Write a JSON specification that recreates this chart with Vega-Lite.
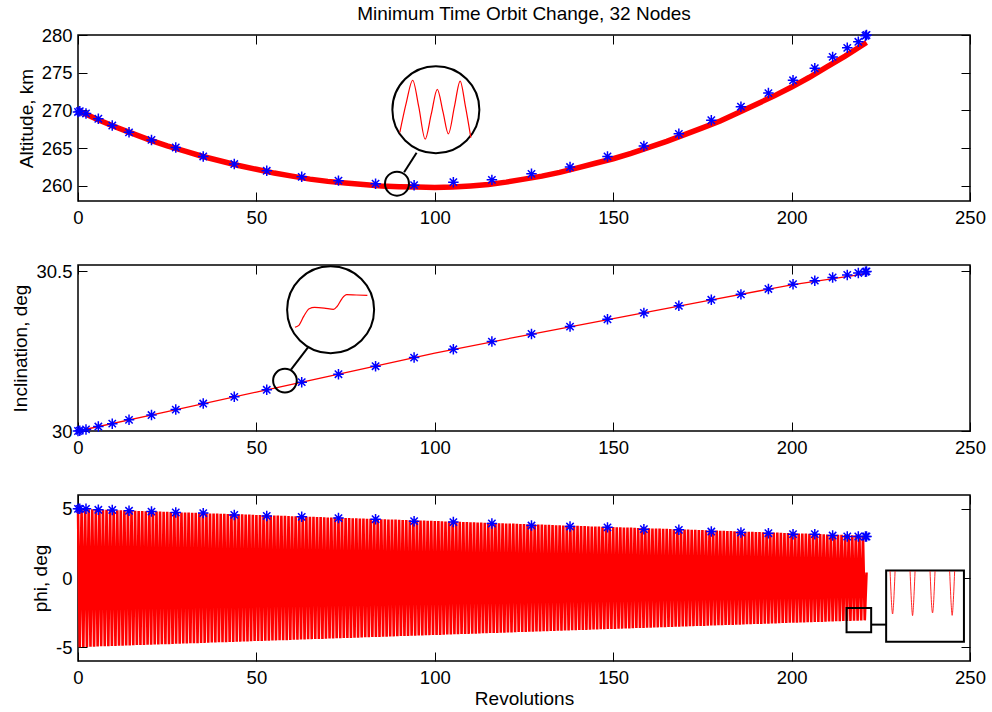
{
"$schema": "https://vega.github.io/schema/vega-lite/v6.json",
"background": "white",
"padding": {"left": 11, "top": 4, "right": 10, "bottom": 5},
"bounds": "flush",
"spacing": 64,
"config": {
  "font": "Liberation Sans",
  "view": {"stroke": "#000000", "strokeWidth": 1.5},
  "axis": {"domain": false, "grid": false, "ticks": true, "tickColor": "#000000", "tickSize": -9, "tickWidth": 1, "labelPadding": 16, "labelFont": "Liberation Sans", "labelFontSize": 18.5, "labelColor": "#000000", "titleFont": "Liberation Sans", "titleFontSize": 19, "titleFontWeight": "normal", "titleColor": "#000000", "titlePadding": 5, "labelOverlap": false, "labelFlush": false},
  "axisY": {"labelPadding": 15},
  "axisX": {"titlePadding": 3}
},
"datasets": {
  "alt": [{"x":0,"y":270},{"x":5,"y":268.9},{"x":10,"y":267.9},{"x":15,"y":267},{"x":20,"y":266.1},{"x":25,"y":265.3},{"x":30,"y":264.6},{"x":35,"y":263.9},{"x":40,"y":263.3},{"x":45,"y":262.7},{"x":50,"y":262.2},{"x":55,"y":261.7},{"x":60,"y":261.3},{"x":65,"y":260.9},{"x":70,"y":260.6},{"x":75,"y":260.4},{"x":80,"y":260.2},{"x":85,"y":260.0},{"x":90,"y":259.9},{"x":95,"y":259.85},{"x":100,"y":259.8},{"x":105,"y":259.85},{"x":110,"y":260},{"x":115,"y":260.2},{"x":120,"y":260.5},{"x":125,"y":260.9},{"x":130,"y":261.3},{"x":135,"y":261.8},{"x":140,"y":262.4},{"x":145,"y":263},{"x":150,"y":263.6},{"x":155,"y":264.3},{"x":160,"y":265.1},{"x":165,"y":265.9},{"x":170,"y":266.8},{"x":175,"y":267.7},{"x":180,"y":268.6},{"x":185,"y":269.7},{"x":190,"y":270.8},{"x":195,"y":271.9},{"x":200,"y":273.1},{"x":205,"y":274.4},{"x":210,"y":275.8},{"x":215,"y":277.2},{"x":221,"y":279}],
  "inc": [{"x":0,"y":30},{"x":25,"y":30.061},{"x":50,"y":30.122},{"x":75,"y":30.183},{"x":100,"y":30.244},{"x":125,"y":30.299},{"x":150,"y":30.352},{"x":175,"y":30.405},{"x":200,"y":30.458},{"x":221,"y":30.493}],
  "nodes": [
    {"x":0,"alt":269.8,"inc":30.0,"phi":5.0},{"x":0.5,"alt":269.9,"inc":30.001,"phi":5.0},{"x":2.24,"alt":269.6,"inc":30.005,"phi":5.0},{"x":5.7,"alt":268.9,"inc":30.014,"phi":4.93},{"x":9.6,"alt":268.0,"inc":30.023,"phi":4.92},{"x":14.3,"alt":267.1,"inc":30.035,"phi":4.86},{"x":20.6,"alt":266.1,"inc":30.05,"phi":4.8},{"x":27.4,"alt":265.1,"inc":30.067,"phi":4.74},{"x":35.1,"alt":263.9,"inc":30.086,"phi":4.69},{"x":43.8,"alt":262.9,"inc":30.107,"phi":4.56},{"x":52.9,"alt":262.0,"inc":30.129,"phi":4.49},{"x":62.7,"alt":261.2,"inc":30.153,"phi":4.42},{"x":73,"alt":260.7,"inc":30.178,"phi":4.33},{"x":83.4,"alt":260.3,"inc":30.203,"phi":4.25},{"x":94.2,"alt":260.1,"inc":30.23,"phi":4.11},{"x":105.2,"alt":260.5,"inc":30.256,"phi":4.04},{"x":116,"alt":260.8,"inc":30.28,"phi":3.94},{"x":127.1,"alt":261.6,"inc":30.304,"phi":3.79},{"x":137.9,"alt":262.5,"inc":30.327,"phi":3.72},{"x":148.4,"alt":263.9,"inc":30.35,"phi":3.66},{"x":158.6,"alt":265.3,"inc":30.37,"phi":3.53},{"x":168.4,"alt":266.9,"inc":30.392,"phi":3.48},{"x":177.5,"alt":268.7,"inc":30.411,"phi":3.36},{"x":185.8,"alt":270.5,"inc":30.428,"phi":3.29},{"x":193.5,"alt":272.3,"inc":30.445,"phi":3.24},{"x":200.4,"alt":274.0,"inc":30.46,"phi":3.17},{"x":206.5,"alt":275.6,"inc":30.471,"phi":3.17},{"x":211.5,"alt":277.1,"inc":30.481,"phi":3.07},{"x":215.6,"alt":278.3,"inc":30.489,"phi":3.0},{"x":218.7,"alt":279.1,"inc":30.495,"phi":3.0},{"x":220.7,"alt":279.9,"inc":30.499,"phi":3.0},{"x":221,"alt":280.0,"inc":30.5,"phi":3.0}],
  "phi": [{"x":0,"y":5},{"x":0.5,"y":-5},{"x":1,"y":4.99},{"x":1.5,"y":-4.99},{"x":2,"y":4.98},{"x":2.5,"y":-4.98},{"x":3,"y":4.97},{"x":3.5,"y":-4.97},{"x":4,"y":4.96},{"x":4.5,"y":-4.96},{"x":5,"y":4.96},{"x":5.5,"y":-4.95},{"x":6,"y":4.95},{"x":6.5,"y":-4.94},{"x":7,"y":4.94},{"x":7.5,"y":-4.93},{"x":8,"y":4.93},{"x":8.5,"y":-4.93},{"x":9,"y":4.92},{"x":9.5,"y":-4.92},
{"x":10,"y":4.91},{"x":10.5,"y":-4.91},{"x":11,"y":4.9},{"x":11.5,"y":-4.9},{"x":12,"y":4.89},{"x":12.5,"y":-4.89},{"x":13,"y":4.89},{"x":13.5,"y":-4.88},{"x":14,"y":4.88},{"x":14.5,"y":-4.87},{"x":15,"y":4.87},{"x":15.5,"y":-4.86},{"x":16,"y":4.86},{"x":16.5,"y":-4.85},{"x":17,"y":4.85},{"x":17.5,"y":-4.85},{"x":18,"y":4.84},{"x":18.5,"y":-4.84},{"x":19,"y":4.83},{"x":19.5,"y":-4.83},
{"x":20,"y":4.82},{"x":20.5,"y":-4.82},{"x":21,"y":4.82},{"x":21.5,"y":-4.81},{"x":22,"y":4.81},{"x":22.5,"y":-4.8},{"x":23,"y":4.8},{"x":23.5,"y":-4.79},{"x":24,"y":4.79},{"x":24.5,"y":-4.78},{"x":25,"y":4.78},{"x":25.5,"y":-4.78},{"x":26,"y":4.77},{"x":26.5,"y":-4.77},{"x":27,"y":4.76},{"x":27.5,"y":-4.76},{"x":28,"y":4.75},{"x":28.5,"y":-4.75},{"x":29,"y":4.74},{"x":29.5,"y":-4.74},
{"x":30,"y":4.74},{"x":30.5,"y":-4.73},{"x":31,"y":4.73},{"x":31.5,"y":-4.72},{"x":32,"y":4.72},{"x":32.5,"y":-4.71},{"x":33,"y":4.71},{"x":33.5,"y":-4.71},{"x":34,"y":4.7},{"x":34.5,"y":-4.7},{"x":35,"y":4.69},{"x":35.5,"y":-4.69},{"x":36,"y":4.68},{"x":36.5,"y":-4.68},{"x":37,"y":4.67},{"x":37.5,"y":-4.67},{"x":38,"y":4.67},{"x":38.5,"y":-4.66},{"x":39,"y":4.66},{"x":39.5,"y":-4.65},
{"x":40,"y":4.65},{"x":40.5,"y":-4.64},{"x":41,"y":4.64},{"x":41.5,"y":-4.64},{"x":42,"y":4.63},{"x":42.5,"y":-4.63},{"x":43,"y":4.62},{"x":43.5,"y":-4.62},{"x":44,"y":4.61},{"x":44.5,"y":-4.61},{"x":45,"y":4.6},{"x":45.5,"y":-4.6},{"x":46,"y":4.6},{"x":46.5,"y":-4.59},{"x":47,"y":4.59},{"x":47.5,"y":-4.58},{"x":48,"y":4.58},{"x":48.5,"y":-4.57},{"x":49,"y":4.57},{"x":49.5,"y":-4.56},
{"x":50,"y":4.56},{"x":50.5,"y":-4.56},{"x":51,"y":4.55},{"x":51.5,"y":-4.55},{"x":52,"y":4.54},{"x":52.5,"y":-4.54},{"x":53,"y":4.53},{"x":53.5,"y":-4.53},{"x":54,"y":4.52},{"x":54.5,"y":-4.52},{"x":55,"y":4.52},{"x":55.5,"y":-4.51},{"x":56,"y":4.51},{"x":56.5,"y":-4.5},{"x":57,"y":4.5},{"x":57.5,"y":-4.49},{"x":58,"y":4.49},{"x":58.5,"y":-4.49},{"x":59,"y":4.48},{"x":59.5,"y":-4.48},
{"x":60,"y":4.47},{"x":60.5,"y":-4.47},{"x":61,"y":4.46},{"x":61.5,"y":-4.46},{"x":62,"y":4.45},{"x":62.5,"y":-4.45},{"x":63,"y":4.45},{"x":63.5,"y":-4.44},{"x":64,"y":4.44},{"x":64.5,"y":-4.43},{"x":65,"y":4.43},{"x":65.5,"y":-4.42},{"x":66,"y":4.42},{"x":66.5,"y":-4.41},{"x":67,"y":4.41},{"x":67.5,"y":-4.41},{"x":68,"y":4.4},{"x":68.5,"y":-4.4},{"x":69,"y":4.39},{"x":69.5,"y":-4.39},
{"x":70,"y":4.38},{"x":70.5,"y":-4.38},{"x":71,"y":4.38},{"x":71.5,"y":-4.37},{"x":72,"y":4.37},{"x":72.5,"y":-4.36},{"x":73,"y":4.36},{"x":73.5,"y":-4.35},{"x":74,"y":4.35},{"x":74.5,"y":-4.34},{"x":75,"y":4.34},{"x":75.5,"y":-4.34},{"x":76,"y":4.33},{"x":76.5,"y":-4.33},{"x":77,"y":4.32},{"x":77.5,"y":-4.32},{"x":78,"y":4.31},{"x":78.5,"y":-4.31},{"x":79,"y":4.3},{"x":79.5,"y":-4.3},
{"x":80,"y":4.3},{"x":80.5,"y":-4.29},{"x":81,"y":4.29},{"x":81.5,"y":-4.28},{"x":82,"y":4.28},{"x":82.5,"y":-4.27},{"x":83,"y":4.27},{"x":83.5,"y":-4.27},{"x":84,"y":4.26},{"x":84.5,"y":-4.26},{"x":85,"y":4.25},{"x":85.5,"y":-4.25},{"x":86,"y":4.24},{"x":86.5,"y":-4.24},{"x":87,"y":4.23},{"x":87.5,"y":-4.23},{"x":88,"y":4.23},{"x":88.5,"y":-4.22},{"x":89,"y":4.22},{"x":89.5,"y":-4.21},
{"x":90,"y":4.21},{"x":90.5,"y":-4.2},{"x":91,"y":4.2},{"x":91.5,"y":-4.2},{"x":92,"y":4.19},{"x":92.5,"y":-4.19},{"x":93,"y":4.18},{"x":93.5,"y":-4.18},{"x":94,"y":4.17},{"x":94.5,"y":-4.17},{"x":95,"y":4.16},{"x":95.5,"y":-4.16},{"x":96,"y":4.16},{"x":96.5,"y":-4.15},{"x":97,"y":4.15},{"x":97.5,"y":-4.14},{"x":98,"y":4.14},{"x":98.5,"y":-4.13},{"x":99,"y":4.13},{"x":99.5,"y":-4.12},
{"x":100,"y":4.12},{"x":100.5,"y":-4.12},{"x":101,"y":4.11},{"x":101.5,"y":-4.11},{"x":102,"y":4.1},{"x":102.5,"y":-4.1},{"x":103,"y":4.09},{"x":103.5,"y":-4.09},{"x":104,"y":4.08},{"x":104.5,"y":-4.08},{"x":105,"y":4.08},{"x":105.5,"y":-4.07},{"x":106,"y":4.07},{"x":106.5,"y":-4.06},{"x":107,"y":4.06},{"x":107.5,"y":-4.05},{"x":108,"y":4.05},{"x":108.5,"y":-4.05},{"x":109,"y":4.04},{"x":109.5,"y":-4.04},
{"x":110,"y":4.03},{"x":110.5,"y":-4.03},{"x":111,"y":4.02},{"x":111.5,"y":-4.02},{"x":112,"y":4.01},{"x":112.5,"y":-4.01},{"x":113,"y":4.01},{"x":113.5,"y":-4},{"x":114,"y":4},{"x":114.5,"y":-3.99},{"x":115,"y":3.99},{"x":115.5,"y":-3.98},{"x":116,"y":3.98},{"x":116.5,"y":-3.98},{"x":117,"y":3.97},{"x":117.5,"y":-3.97},{"x":118,"y":3.96},{"x":118.5,"y":-3.96},{"x":119,"y":3.95},{"x":119.5,"y":-3.95},
{"x":120,"y":3.94},{"x":120.5,"y":-3.94},{"x":121,"y":3.94},{"x":121.5,"y":-3.93},{"x":122,"y":3.93},{"x":122.5,"y":-3.92},{"x":123,"y":3.92},{"x":123.5,"y":-3.91},{"x":124,"y":3.91},{"x":124.5,"y":-3.9},{"x":125,"y":3.9},{"x":125.5,"y":-3.9},{"x":126,"y":3.89},{"x":126.5,"y":-3.89},{"x":127,"y":3.88},{"x":127.5,"y":-3.88},{"x":128,"y":3.87},{"x":128.5,"y":-3.87},{"x":129,"y":3.87},{"x":129.5,"y":-3.86},
{"x":130,"y":3.86},{"x":130.5,"y":-3.85},{"x":131,"y":3.85},{"x":131.5,"y":-3.84},{"x":132,"y":3.84},{"x":132.5,"y":-3.83},{"x":133,"y":3.83},{"x":133.5,"y":-3.83},{"x":134,"y":3.82},{"x":134.5,"y":-3.82},{"x":135,"y":3.81},{"x":135.5,"y":-3.81},{"x":136,"y":3.8},{"x":136.5,"y":-3.8},{"x":137,"y":3.79},{"x":137.5,"y":-3.79},{"x":138,"y":3.79},{"x":138.5,"y":-3.78},{"x":139,"y":3.78},{"x":139.5,"y":-3.77},
{"x":140,"y":3.77},{"x":140.5,"y":-3.76},{"x":141,"y":3.76},{"x":141.5,"y":-3.76},{"x":142,"y":3.75},{"x":142.5,"y":-3.75},{"x":143,"y":3.74},{"x":143.5,"y":-3.74},{"x":144,"y":3.73},{"x":144.5,"y":-3.73},{"x":145,"y":3.72},{"x":145.5,"y":-3.72},{"x":146,"y":3.72},{"x":146.5,"y":-3.71},{"x":147,"y":3.71},{"x":147.5,"y":-3.7},{"x":148,"y":3.7},{"x":148.5,"y":-3.69},{"x":149,"y":3.69},{"x":149.5,"y":-3.68},
{"x":150,"y":3.68},{"x":150.5,"y":-3.68},{"x":151,"y":3.67},{"x":151.5,"y":-3.67},{"x":152,"y":3.66},{"x":152.5,"y":-3.66},{"x":153,"y":3.65},{"x":153.5,"y":-3.65},{"x":154,"y":3.65},{"x":154.5,"y":-3.64},{"x":155,"y":3.64},{"x":155.5,"y":-3.63},{"x":156,"y":3.63},{"x":156.5,"y":-3.62},{"x":157,"y":3.62},{"x":157.5,"y":-3.61},{"x":158,"y":3.61},{"x":158.5,"y":-3.61},{"x":159,"y":3.6},{"x":159.5,"y":-3.6},
{"x":160,"y":3.59},{"x":160.5,"y":-3.59},{"x":161,"y":3.58},{"x":161.5,"y":-3.58},{"x":162,"y":3.57},{"x":162.5,"y":-3.57},{"x":163,"y":3.57},{"x":163.5,"y":-3.56},{"x":164,"y":3.56},{"x":164.5,"y":-3.55},{"x":165,"y":3.55},{"x":165.5,"y":-3.54},{"x":166,"y":3.54},{"x":166.5,"y":-3.54},{"x":167,"y":3.53},{"x":167.5,"y":-3.53},{"x":168,"y":3.52},{"x":168.5,"y":-3.52},{"x":169,"y":3.51},{"x":169.5,"y":-3.51},
{"x":170,"y":3.5},{"x":170.5,"y":-3.5},{"x":171,"y":3.5},{"x":171.5,"y":-3.49},{"x":172,"y":3.49},{"x":172.5,"y":-3.48},{"x":173,"y":3.48},{"x":173.5,"y":-3.47},{"x":174,"y":3.47},{"x":174.5,"y":-3.46},{"x":175,"y":3.46},{"x":175.5,"y":-3.46},{"x":176,"y":3.45},{"x":176.5,"y":-3.45},{"x":177,"y":3.44},{"x":177.5,"y":-3.44},{"x":178,"y":3.43},{"x":178.5,"y":-3.43},{"x":179,"y":3.43},{"x":179.5,"y":-3.42},
{"x":180,"y":3.42},{"x":180.5,"y":-3.41},{"x":181,"y":3.41},{"x":181.5,"y":-3.4},{"x":182,"y":3.4},{"x":182.5,"y":-3.39},{"x":183,"y":3.39},{"x":183.5,"y":-3.39},{"x":184,"y":3.38},{"x":184.5,"y":-3.38},{"x":185,"y":3.37},{"x":185.5,"y":-3.37},{"x":186,"y":3.36},{"x":186.5,"y":-3.36},{"x":187,"y":3.35},{"x":187.5,"y":-3.35},{"x":188,"y":3.35},{"x":188.5,"y":-3.34},{"x":189,"y":3.34},{"x":189.5,"y":-3.33},
{"x":190,"y":3.33},{"x":190.5,"y":-3.32},{"x":191,"y":3.32},{"x":191.5,"y":-3.32},{"x":192,"y":3.31},{"x":192.5,"y":-3.31},{"x":193,"y":3.3},{"x":193.5,"y":-3.3},{"x":194,"y":3.29},{"x":194.5,"y":-3.29},{"x":195,"y":3.28},{"x":195.5,"y":-3.28},{"x":196,"y":3.28},{"x":196.5,"y":-3.27},{"x":197,"y":3.27},{"x":197.5,"y":-3.26},{"x":198,"y":3.26},{"x":198.5,"y":-3.25},{"x":199,"y":3.25},{"x":199.5,"y":-3.24},
{"x":200,"y":3.24},{"x":200.5,"y":-3.24},{"x":201,"y":3.23},{"x":201.5,"y":-3.23},{"x":202,"y":3.22},{"x":202.5,"y":-3.22},{"x":203,"y":3.21},{"x":203.5,"y":-3.21},{"x":204,"y":3.21},{"x":204.5,"y":-3.2},{"x":205,"y":3.2},{"x":205.5,"y":-3.19},{"x":206,"y":3.19},{"x":206.5,"y":-3.18},{"x":207,"y":3.18},{"x":207.5,"y":-3.17},{"x":208,"y":3.17},{"x":208.5,"y":-3.17},{"x":209,"y":3.16},{"x":209.5,"y":-3.16},
{"x":210,"y":3.15},{"x":210.5,"y":-3.15},{"x":211,"y":3.14},{"x":211.5,"y":-3.14},{"x":212,"y":3.13},{"x":212.5,"y":-3.13},{"x":213,"y":3.13},{"x":213.5,"y":-3.12},{"x":214,"y":3.12},{"x":214.5,"y":-3.11},{"x":215,"y":3.11},{"x":215.5,"y":-3.1},{"x":216,"y":3.1},{"x":216.5,"y":-3.1},{"x":217,"y":3.09},{"x":217.5,"y":-3.09},{"x":218,"y":3.08},{"x":218.5,"y":-3.08},{"x":219,"y":3.07},{"x":219.5,"y":-3.07},
{"x":220,"y":3.06},{"x":220.5,"y":-3.06},{"x":221,"y":0.4}],
  "c1big": [{"x":100.3,"y":270.1}],
  "c1small": [{"x":89.4,"y":260.3}],
  "c1line": [{"x":91.4,"y":261.8,"x2":94.9,"y2":264.4}],
  "c1curve": [{"x":90.2,"y":267.1},{"x":92.0,"y":271.0},{"x":93.8,"y":274.0},{"x":95.5,"y":270.5},{"x":97.3,"y":266.2},{"x":99.0,"y":269.5},{"x":100.7,"y":272.8},{"x":102.3,"y":269.8},{"x":103.8,"y":266.9},{"x":105.5,"y":270.5},{"x":107.1,"y":273.9},{"x":108.6,"y":270.5},{"x":110.1,"y":266.4}],
  "c2big": [{"x":70.8,"y":30.38}],
  "c2small": [{"x":58.0,"y":30.158}],
  "c2line": [{"x":59.7,"y":30.192,"x2":65.0,"y2":30.27}],
  "c2curve": [{"x":60.8,"y":30.325},{"x":61.8,"y":30.33},{"x":63.3,"y":30.36},{"x":64.8,"y":30.383},{"x":66.3,"y":30.387},{"x":69,"y":30.385},{"x":71.6,"y":30.381},{"x":72.6,"y":30.39},{"x":74,"y":30.415},{"x":75.3,"y":30.427},{"x":78,"y":30.426},{"x":81.1,"y":30.425}],
  "r3small": [{"x":215.4,"x2":222.3,"y":-2.16,"y2":-3.92}],
  "r3big": [{"x":226.5,"x2":248.3,"y":0.55,"y2":-4.61}],
  "r3line": [{"x":222.3,"x2":226.5,"y":-3.37,"y2":-3.37}],
  "r3curve": [
    {"g":1,"x":227.6,"y":0.5},{"g":1,"x":227.85,"y":-1.0},{"g":1,"x":228.05,"y":-2.0},{"g":1,"x":228.3,"y":-2.6},{"g":1,"x":228.55,"y":-2.0},{"g":1,"x":228.75,"y":-1.0},{"g":1,"x":229.0,"y":0.5},
    {"g":2,"x":233.2,"y":0.5},{"g":2,"x":233.45,"y":-1.0},{"g":2,"x":233.65,"y":-2.0},{"g":2,"x":233.9,"y":-2.72},{"g":2,"x":234.15,"y":-2.0},{"g":2,"x":234.35,"y":-1.0},{"g":2,"x":234.6,"y":0.5},
    {"g":3,"x":238.8,"y":0.5},{"g":3,"x":239.05,"y":-1.0},{"g":3,"x":239.25,"y":-2.0},{"g":3,"x":239.5,"y":-2.52},{"g":3,"x":239.75,"y":-2.0},{"g":3,"x":239.95,"y":-1.0},{"g":3,"x":240.2,"y":0.5},
    {"g":4,"x":244.3,"y":0.5},{"g":4,"x":244.55,"y":-1.0},{"g":4,"x":244.75,"y":-2.0},{"g":4,"x":245.0,"y":-2.7},{"g":4,"x":245.25,"y":-2.0},{"g":4,"x":245.45,"y":-1.0},{"g":4,"x":245.7,"y":0.5}]
},
"vconcat": [
  {
    "width": 892, "height": 166,
    "title": {"text": "Minimum Time Orbit Change, 32 Nodes", "frame": "group", "anchor": "middle", "offset": 2, "fontSize": 19, "fontWeight": "normal", "font": "Liberation Sans", "color": "#000000"},
    "resolve": {"axis": {"x": "independent", "y": "independent"}},
    "layer": [
      {"data": {"name": "alt"}, "mark": {"type": "line", "color": "#ff0000", "strokeWidth": 5.5},
       "encoding": {
         "x": {"field": "x", "type": "quantitative", "scale": {"domain": [0, 250], "nice": false, "zero": false}, "axis": {"values": [0, 50, 100, 150, 200, 250], "title": null}},
         "y": {"field": "y", "type": "quantitative", "scale": {"domain": [258, 280], "nice": false, "zero": false}, "axis": {"values": [260, 265, 270, 275, 280], "title": "Altitude, km"}}}},
      {"data": {"name": "nodes"}, "mark": {"type": "point", "shape": "M-1,0L1,0M0,-1L0,1M-0.7,-0.7L0.7,0.7M-0.7,0.7L0.7,-0.7", "size": 110, "filled": false, "stroke": "#0000ff", "strokeWidth": 1.5, "opacity": 1},
       "encoding": {
         "x": {"field": "x", "type": "quantitative", "scale": {"domain": [0, 250], "nice": false, "zero": false}, "axis": {"orient": "top", "values": [0, 50, 100, 150, 200, 250], "labels": false, "title": null}},
         "y": {"field": "alt", "type": "quantitative", "scale": {"domain": [258, 280], "nice": false, "zero": false}, "axis": {"orient": "right", "values": [260, 265, 270, 275, 280], "labels": false, "title": null}}}},
      {"data": {"name": "c1line"}, "mark": {"type": "rule", "color": "#000000", "strokeWidth": 2},
       "encoding": {
         "x": {"field": "x", "type": "quantitative", "scale": {"domain": [0, 250], "nice": false, "zero": false}, "axis": null},
         "y": {"field": "y", "type": "quantitative", "scale": {"domain": [258, 280], "nice": false, "zero": false}, "axis": null},
         "x2": {"field": "x2"}, "y2": {"field": "y2"}}},
      {"data": {"name": "c1small"}, "mark": {"type": "point", "shape": "circle", "size": 576, "filled": false, "stroke": "#000000", "strokeWidth": 2, "opacity": 1},
       "encoding": {
         "x": {"field": "x", "type": "quantitative", "scale": {"domain": [0, 250], "nice": false, "zero": false}, "axis": null},
         "y": {"field": "y", "type": "quantitative", "scale": {"domain": [258, 280], "nice": false, "zero": false}, "axis": null}}},
      {"data": {"name": "c1big"}, "mark": {"type": "point", "shape": "circle", "size": 7569, "filled": true, "fill": "#ffffff", "stroke": "#000000", "strokeWidth": 2, "opacity": 1},
       "encoding": {
         "x": {"field": "x", "type": "quantitative", "scale": {"domain": [0, 250], "nice": false, "zero": false}, "axis": null},
         "y": {"field": "y", "type": "quantitative", "scale": {"domain": [258, 280], "nice": false, "zero": false}, "axis": null}}},
      {"data": {"name": "c1curve"}, "mark": {"type": "line", "color": "#ff0000", "strokeWidth": 1.2, "interpolate": "monotone"},
       "encoding": {
         "x": {"field": "x", "type": "quantitative", "scale": {"domain": [0, 250], "nice": false, "zero": false}, "axis": null},
         "y": {"field": "y", "type": "quantitative", "scale": {"domain": [258, 280], "nice": false, "zero": false}, "axis": null}}}
    ]
  },
  {
    "width": 892, "height": 166,
    "resolve": {"axis": {"x": "independent", "y": "independent"}},
    "layer": [
      {"data": {"name": "inc"}, "mark": {"type": "line", "color": "#ff0000", "strokeWidth": 1.3},
       "encoding": {
         "x": {"field": "x", "type": "quantitative", "scale": {"domain": [0, 250], "nice": false, "zero": false}, "axis": {"values": [0, 50, 100, 150, 200, 250], "title": null}},
         "y": {"field": "y", "type": "quantitative", "scale": {"domain": [30, 30.52], "nice": false, "zero": false}, "axis": {"values": [30, 30.5], "labelExpr": "'' + datum.value", "title": "Inclination, deg"}}}},
      {"data": {"name": "nodes"}, "mark": {"type": "point", "shape": "M-1,0L1,0M0,-1L0,1M-0.7,-0.7L0.7,0.7M-0.7,0.7L0.7,-0.7", "size": 110, "filled": false, "stroke": "#0000ff", "strokeWidth": 1.5, "opacity": 1},
       "encoding": {
         "x": {"field": "x", "type": "quantitative", "scale": {"domain": [0, 250], "nice": false, "zero": false}, "axis": {"orient": "top", "values": [0, 50, 100, 150, 200, 250], "labels": false, "title": null}},
         "y": {"field": "inc", "type": "quantitative", "scale": {"domain": [30, 30.52], "nice": false, "zero": false}, "axis": {"orient": "right", "values": [30, 30.5], "labels": false, "title": null}}}},
      {"data": {"name": "c2line"}, "mark": {"type": "rule", "color": "#000000", "strokeWidth": 2},
       "encoding": {
         "x": {"field": "x", "type": "quantitative", "scale": {"domain": [0, 250], "nice": false, "zero": false}, "axis": null},
         "y": {"field": "y", "type": "quantitative", "scale": {"domain": [30, 30.52], "nice": false, "zero": false}, "axis": null},
         "x2": {"field": "x2"}, "y2": {"field": "y2"}}},
      {"data": {"name": "c2small"}, "mark": {"type": "point", "shape": "circle", "size": 560, "filled": false, "stroke": "#000000", "strokeWidth": 2, "opacity": 1},
       "encoding": {
         "x": {"field": "x", "type": "quantitative", "scale": {"domain": [0, 250], "nice": false, "zero": false}, "axis": null},
         "y": {"field": "y", "type": "quantitative", "scale": {"domain": [30, 30.52], "nice": false, "zero": false}, "axis": null}}},
      {"data": {"name": "c2big"}, "mark": {"type": "point", "shape": "circle", "size": 7569, "filled": true, "fill": "#ffffff", "stroke": "#000000", "strokeWidth": 2, "opacity": 1},
       "encoding": {
         "x": {"field": "x", "type": "quantitative", "scale": {"domain": [0, 250], "nice": false, "zero": false}, "axis": null},
         "y": {"field": "y", "type": "quantitative", "scale": {"domain": [30, 30.52], "nice": false, "zero": false}, "axis": null}}},
      {"data": {"name": "c2curve"}, "mark": {"type": "line", "color": "#ff0000", "strokeWidth": 1.2, "interpolate": "monotone"},
       "encoding": {
         "x": {"field": "x", "type": "quantitative", "scale": {"domain": [0, 250], "nice": false, "zero": false}, "axis": null},
         "y": {"field": "y", "type": "quantitative", "scale": {"domain": [30, 30.52], "nice": false, "zero": false}, "axis": null}}}
    ]
  },
  {
    "width": 892, "height": 166,
    "resolve": {"axis": {"x": "independent", "y": "independent"}},
    "layer": [
      {"data": {"name": "phi"}, "mark": {"type": "line", "color": "#ff0000", "strokeWidth": 2.6},
       "encoding": {
         "x": {"field": "x", "type": "quantitative", "scale": {"domain": [0, 250], "nice": false, "zero": false}, "axis": {"values": [0, 50, 100, 150, 200, 250], "title": "Revolutions"}},
         "y": {"field": "y", "type": "quantitative", "scale": {"domain": [-6, 6], "nice": false, "zero": false}, "axis": {"values": [-5, 0, 5], "labelExpr": "'' + datum.value", "title": "phi, deg"}}}},
      {"data": {"name": "nodes"}, "mark": {"type": "point", "shape": "M-1,0L1,0M0,-1L0,1M-0.7,-0.7L0.7,0.7M-0.7,0.7L0.7,-0.7", "size": 110, "filled": false, "stroke": "#0000ff", "strokeWidth": 1.5, "opacity": 1},
       "encoding": {
         "x": {"field": "x", "type": "quantitative", "scale": {"domain": [0, 250], "nice": false, "zero": false}, "axis": {"orient": "top", "values": [0, 50, 100, 150, 200, 250], "labels": false, "title": null}},
         "y": {"field": "phi", "type": "quantitative", "scale": {"domain": [-6, 6], "nice": false, "zero": false}, "axis": {"orient": "right", "values": [-5, 0, 5], "labels": false, "title": null}}}},
      {"data": {"name": "r3line"}, "mark": {"type": "rule", "color": "#000000", "strokeWidth": 2},
       "encoding": {
         "x": {"field": "x", "type": "quantitative", "scale": {"domain": [0, 250], "nice": false, "zero": false}, "axis": null},
         "y": {"field": "y", "type": "quantitative", "scale": {"domain": [-6, 6], "nice": false, "zero": false}, "axis": null},
         "x2": {"field": "x2"}, "y2": {"field": "y2"}}},
      {"data": {"name": "r3small"}, "mark": {"type": "rect", "fillOpacity": 0, "stroke": "#000000", "strokeWidth": 2},
       "encoding": {
         "x": {"field": "x", "type": "quantitative", "scale": {"domain": [0, 250], "nice": false, "zero": false}, "axis": null},
         "y": {"field": "y", "type": "quantitative", "scale": {"domain": [-6, 6], "nice": false, "zero": false}, "axis": null},
         "x2": {"field": "x2"}, "y2": {"field": "y2"}}},
      {"data": {"name": "r3big"}, "mark": {"type": "rect", "fill": "#ffffff", "stroke": "#000000", "strokeWidth": 2},
       "encoding": {
         "x": {"field": "x", "type": "quantitative", "scale": {"domain": [0, 250], "nice": false, "zero": false}, "axis": null},
         "y": {"field": "y", "type": "quantitative", "scale": {"domain": [-6, 6], "nice": false, "zero": false}, "axis": null},
         "x2": {"field": "x2"}, "y2": {"field": "y2"}}},
      {"data": {"name": "r3curve"}, "mark": {"type": "line", "color": "#ff0000", "strokeWidth": 1, "interpolate": "monotone", "opacity": 0.85},
       "encoding": {
         "x": {"field": "x", "type": "quantitative", "scale": {"domain": [0, 250], "nice": false, "zero": false}, "axis": null},
         "y": {"field": "y", "type": "quantitative", "scale": {"domain": [-6, 6], "nice": false, "zero": false}, "axis": null},
         "detail": {"field": "g", "type": "nominal"}}}
    ]
  }
]
}
